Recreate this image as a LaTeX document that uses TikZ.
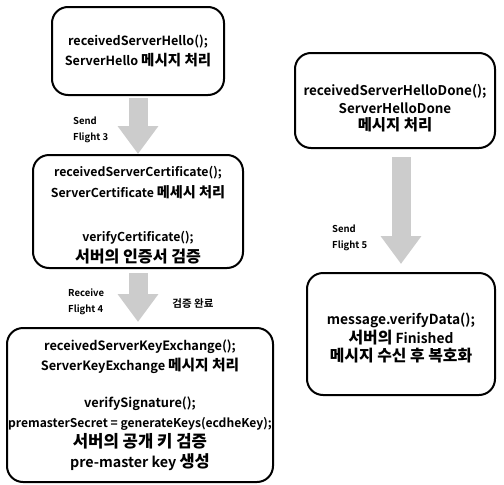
\documentclass[tikz,border=0pt]{standalone}
\usepackage{fontspec}
\setmainfont{Noto Sans CJK KR}[BoldFont={Noto Sans CJK KR Bold}]
\newfontfamily\krfont{Noto Sans CJK KR Bold}[Scale=1.15]
\newcommand{\ko}[1]{{\krfont #1}}
\newcommand{\topgap}[1]{\rule{0pt}{#1}}
\newcommand{\fsz}[2]{\fontsize{#1}{#2}\selectfont}
\usetikzlibrary{arrows.meta}
\begin{document}
\begin{tikzpicture}[x=1pt,y=-1pt,
  box/.style={draw=black, line width=2pt, rounded corners=16pt, align=center,
    inner sep=0pt, font=\bfseries\fsz{12.5}{20}},
  fat/.style={draw=black!20, line width=19pt,
    -{Triangle[length=28pt,width=39pt]}},
  lbl/.style={align=left, inner sep=0pt, font=\bfseries\fsz{9.5}{16}}]
\useasboundingbox (0,0) rectangle (504,485);
\node[box, minimum width=172pt, minimum height=88pt, font=\bfseries\fsz{12.6}{20}] (b1) at (138,51)
  {receivedServerHello();\\ServerHello \ko{메시지 처리}};
\node[box, minimum width=210pt, minimum height=113pt, font=\bfseries\fsz{12.3}{21}] (b2) at (138,211.5)
  {\topgap{17.5pt}receivedServerCertificate();\\ServerCertificate \ko{메세시 처리}\\[23pt]verifyCertificate();\\{\fsz{14}{21}\ko{서버의 인증서 검증}}};
\node[box, minimum width=266pt, minimum height=154pt, font=\bfseries\fsz{12.8}{20}] (b3) at (140,405)
  {receivedServerKeyExchange();\\ServerKeyExchange \ko{메시지 처리}\\[17pt]verifySignature();\\{\fsz{12.1}{20}premasterSecret = generateKeys(ecdheKey);}\\{\fsz{14.5}{18}\ko{서버의 공개 키 검증}}\\{\fsz{14.3}{20}pre-master key \ko{생성}}};
\node[box, minimum width=200pt, minimum height=95pt, font=\bfseries\fsz{13.4}{17.5}] (b4) at (395,100.5)
  {\topgap{27pt}receivedServerHelloDone();\\ServerHelloDone\\\ko{메시지 처리}};
\node[box, minimum width=188pt, minimum height=122pt, font=\bfseries\fsz{13.8}{18.5}] (b5) at (401,334)
  {\topgap{20pt}message.verifyData();\\\ko{서버의} Finished\\\ko{메시지 수신 후 복호화}};
\draw[fat, shorten <=2pt] (b1.south) -- (b2.north);
\draw[fat, shorten <=4pt, shorten >=5pt] (b2.south) -- (b2.south |- b3.north);
\draw[fat, shorten <=8pt, shorten >=8pt] (b5.north |- b4.south) -- (b5.north);
\node[lbl, anchor=west] (l1) at (73,130) {Send\\Flight 3};
\node[lbl, anchor=west] (l2) at (68,302) {Receive\\Flight 4};
\node[lbl, anchor=center, font=\bfseries\fsz{10.5}{16}] (l3) at (193,304) {검증 완료};
\node[lbl, anchor=west] (l4) at (332,238) {Send\\Flight 5};
\end{tikzpicture}
\end{document}
